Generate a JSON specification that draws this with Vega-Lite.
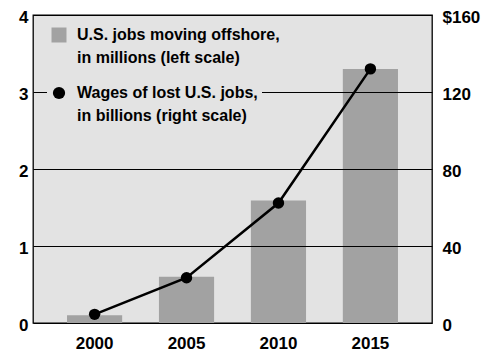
{
  "$schema": "https://vega.github.io/schema/vega-lite/v6.json",
  "width": 399,
  "height": 308,
  "padding": {"left": 18, "top": 8, "right": 3, "bottom": 0},
  "background": "white",
  "config": {
    "view": {"fill": "#e3e3e3", "stroke": "black", "strokeWidth": 1.3},
    "font": "Liberation Sans",
    "style": {"guide-label": {"lineHeight": 22.5}},
    "axis": {
      "labelFont": "Liberation Sans",
      "labelFontWeight": "bold",
      "labelFontSize": 17,
      "labelColor": "black",
      "ticks": false,
      "domain": false,
      "title": null
    },
    "legend": {
      "labelFont": "Liberation Sans Narrow, Liberation Sans",
      "labelFontWeight": "bold",
      "labelFontSize": 16,
      "labelColor": "black",
      "labelLimit": 0,
      "labelOffset": 10,
      "fillColor": "#e3e3e3",
      "padding": 4,
      "orient": "none",
      "zindex": 3
    }
  },
  "data": {
    "values": [
      {"year": "2000", "jobs": 0.1, "wages": 4.5},
      {"year": "2005", "jobs": 0.6, "wages": 23.5},
      {"year": "2010", "jobs": 1.59, "wages": 62.3},
      {"year": "2015", "jobs": 3.3, "wages": 132}
    ]
  },
  "encoding": {
    "x": {
      "field": "year",
      "type": "ordinal",
      "scale": {"paddingInner": 0.4, "paddingOuter": 0.37},
      "axis": {"labelAngle": 0, "labelPadding": 12, "title": null}
    }
  },
  "layer": [
    {
      "mark": {"type": "bar"},
      "encoding": {
        "y": {
          "field": "jobs",
          "type": "quantitative",
          "scale": {"domain": [0, 4]},
          "axis": {
            "values": [0, 1, 2, 3, 4],
            "grid": true,
            "gridColor": "black",
            "gridWidth": 1.2,
            "gridOpacity": 1,
            "labelPadding": 5,
            "labelOffset": 2,
            "labelFlush": false,
            "zindex": 1,
            "title": null
          }
        },
        "color": {
          "datum": "jobs",
          "scale": {"range": ["#a2a2a2"]},
          "legend": {
            "title": null,
            "symbolType": "square",
            "symbolSize": 225,
            "symbolStrokeWidth": 0,
            "labelExpr": "['U.S. jobs moving offshore,', 'in millions (left scale)']",
            "legendX": 14,
            "legendY": 8
          }
        }
      }
    },
    {
      "encoding": {
        "y": {
          "field": "wages",
          "type": "quantitative",
          "scale": {"domain": [0, 160]},
          "axis": {
            "orient": "right",
            "values": [0, 40, 80, 120, 160],
            "grid": false,
            "labelPadding": 10,
            "labelOffset": 2,
            "labelFlush": false,
            "labelExpr": "datum.value == 160 ? '$160' : datum.label",
            "title": null
          }
        }
      },
      "layer": [
        {"mark": {"type": "line", "color": "black", "strokeWidth": 2.5}, "encoding": {}},
        {
          "mark": {"type": "point", "filled": true, "color": "black", "size": 130, "opacity": 1},
          "encoding": {
            "shape": {
              "datum": "wages",
              "scale": {"range": ["circle"]},
              "legend": {
                "title": null,
                "symbolFillColor": "black",
                "symbolStrokeColor": "black",
                "symbolSize": 150,
                "symbolOpacity": 1,
                "labelExpr": "['Wages of lost U.S. jobs,', 'in billions (right scale)']",
                "legendX": 14,
                "legendY": 66
              }
            }
          }
        }
      ]
    }
  ],
  "resolve": {"scale": {"y": "independent"}}
}
